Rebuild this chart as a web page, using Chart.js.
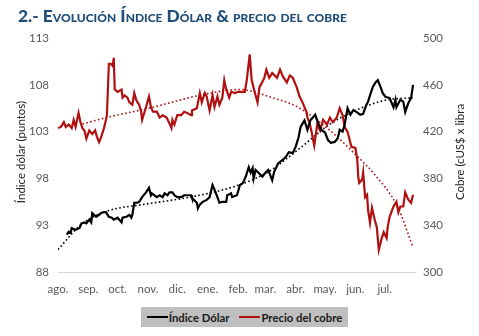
<!DOCTYPE html>
<html lang="es">
<head>
<meta charset="utf-8">
<script src="https://cdn.jsdelivr.net/npm/chart.js@4.4.1/dist/chart.umd.min.js"></script>
<style>
  html, body { margin: 0; padding: 0; background: #fff; }
  #wrap { position: relative; width: 479px; height: 336px; overflow: hidden; }
  #titulo {
    position: absolute; left: 18px; top: 5px;
    font-family: Lato, "Open Sans", sans-serif; font-weight: 900;
    font-size: 17.4px; font-variant: small-caps; color: #1F4E79;
    white-space: nowrap;
  }
  #grafico { position: absolute; left: 0; top: 0; }
  #leyenda {
    position: absolute; left: 141px; top: 307px; width: 207px; height: 20px;
    background: #BFBFBF; display: flex; align-items: center; justify-content: center;
    font-family: Lato, sans-serif; font-weight: 700; font-size: 11.3px; color: #1a1a1a;
    white-space: nowrap;
  }
  #leyenda span.item { display: flex; align-items: center; margin: 0 5px; white-space: nowrap; flex: none; }
  #leyenda i { display: inline-block; width: 21px; height: 2px; margin-right: 1px; }
</style>
</head>
<body>
<div id="wrap">
  <canvas id="grafico" width="479" height="336"></canvas>
  <div id="titulo">2.- Evolución Índice Dólar &amp; precio del cobre</div>
  <div id="leyenda">
    <span class="item"><i style="background:#000"></i>Índice Dólar</span>
    <span class="item"><i style="background:#B01010"></i>Precio del cobre</span>
  </div>
</div>
<script>
// Meses del eje X (día contado desde el 1 de agosto)
const meses = ['ago.', 'sep.', 'oct.', 'nov.', 'dic.', 'ene.', 'feb.', 'mar.', 'abr.', 'may.', 'jun.', 'jul.'];
const inicioMes = [0, 31, 61, 92, 122, 153, 184, 212, 243, 273, 304, 334];

// Índice Dólar (puntos)
const diasDolar = [9, 11, 13, 14, 18, 22, 24, 27, 29, 32, 34, 35, 39, 42, 44, 47, 49, 52, 55, 57,
  61, 65, 66, 70, 73, 75, 76, 78, 81, 83, 86, 90, 93, 95, 96, 101, 104, 107, 109, 112,
  114, 117, 119, 122, 126, 129, 132, 136, 137, 142, 143, 145, 148, 152, 155, 158, 160, 163, 165, 168,
  172, 173, 177, 178, 183, 186, 189, 192, 195, 197, 199, 200, 202, 205, 209, 212, 215, 219, 221, 225,
  230, 233, 236, 240, 243, 246, 248, 252, 255, 258, 263, 266, 269, 273, 276, 279, 283, 286, 288, 291,
  293, 296, 299, 302, 305, 309, 312, 315, 317, 320, 322, 325, 327, 330, 332, 335, 339, 343, 345, 346,
  350, 353, 355, 358, 361, 363];
const dolar = [92.0, 92.3, 92.2, 92.7, 92.5, 92.7, 93.2, 93.3, 93.2, 93.6, 93.3, 94.3, 93.9, 94.1, 94.3, 94.4, 94.4, 93.9, 93.8, 93.6,
  93.8, 93.3, 93.8, 93.9, 94.1, 93.8, 94.1, 95.4, 95.4, 95.5, 96.0, 96.5, 97.0, 96.2, 96.4, 96.0, 96.2, 96.0, 96.4, 96.2,
  96.5, 96.5, 96.2, 96.0, 96.0, 96.2, 96.2, 96.2, 95.9, 95.4, 94.8, 95.2, 95.5, 95.7, 96.0, 97.3, 96.8, 96.0, 95.4, 95.5,
  95.5, 96.2, 96.4, 96.0, 96.2, 97.3, 97.5, 98.2, 99.2, 98.6, 99.1, 98.0, 98.9, 98.6, 98.2, 98.6, 98.9, 97.8, 98.7, 99.6,
  100.0, 100.3, 100.8, 100.7, 101.4, 102.4, 103.5, 104.2, 103.2, 104.2, 104.8, 103.9, 103.2, 102.9, 102.1, 101.8, 101.9, 102.3, 103.2, 103.0,
  103.7, 105.5, 104.8, 105.3, 105.1, 104.8, 104.9, 105.8, 106.2, 107.2, 107.8, 108.3, 108.5, 107.7, 107.1, 106.7, 106.6, 105.6, 106.4, 105.6,
  106.4, 106.2, 105.1, 106.0, 106.6, 108.0];

// Precio del cobre (cUS$ por libra)
const diasCobre = [0, 3, 6, 8, 11, 14, 16, 18, 21, 23, 25, 27, 29, 32, 35, 38, 40, 42, 44, 47,
  49, 50, 52, 54, 56, 57, 58, 61, 65, 66, 68, 71, 73, 76, 78, 80, 83, 85, 86, 90,
  93, 95, 97, 101, 104, 107, 111, 114, 116, 117, 119, 122, 126, 129, 132, 136, 137, 142, 145, 147,
  150, 152, 155, 158, 160, 163, 165, 168, 170, 172, 175, 177, 181, 184, 186, 191, 193, 196, 198, 201,
  204, 206, 208, 211, 213, 216, 219, 224, 227, 230, 234, 237, 240, 244, 247, 250, 254, 255, 257, 259,
  262, 265, 268, 271, 275, 278, 281, 285, 288, 291, 293, 296, 300, 304, 306, 307, 308, 311, 312, 314,
  316, 317, 319, 321, 324, 326, 328, 331, 333, 336, 337, 339, 343, 346, 348, 350, 353, 355, 358, 361,
  363];
const cobre = [423, 424, 428, 424, 426, 423, 430, 424, 436, 428, 423, 421, 414, 421, 418, 421, 415, 411, 415, 423,
  430, 434, 478, 478, 476, 483, 456, 454, 456, 449, 451, 449, 445, 443, 453, 447, 443, 437, 430, 441,
  450, 441, 437, 437, 432, 434, 432, 427, 423, 430, 426, 434, 434, 437, 436, 434, 438, 440, 453, 445,
  453, 450, 438, 451, 441, 450, 443, 449, 464, 456, 449, 454, 453, 454, 454, 454, 464, 486, 464, 454,
  445, 458, 461, 466, 473, 466, 470, 466, 473, 467, 462, 468, 466, 458, 450, 445, 437, 432, 428, 421,
  408, 426, 421, 430, 426, 432, 428, 432, 440, 434, 424, 420, 407, 406, 396, 381, 376, 379, 385, 364,
  366, 353, 342, 355, 344, 338, 319, 329, 334, 329, 338, 347, 356, 360, 351, 356, 356, 368, 362, 359,
  366];

// Líneas de tendencia (punteadas)
const diasTendDolar = [0, 24, 50, 86, 118, 145, 185, 215, 247, 278, 312, 337, 363];
const tendDolar = [90.4, 93.1, 94.5, 95.2, 95.7, 96.2, 97.3, 98.7, 101.2, 103.8, 105.6, 106.4, 106.6];
const diasTendCobre = [25, 52, 93, 145, 186, 219, 245, 278, 307, 322, 347, 363];
const tendCobre = [426.5, 432.5, 440, 451, 456, 449, 441, 421, 398, 385, 356, 321];

const puntos = (xs, ys) => xs.map((d, i) => ({ x: d, y: ys[i] }));

const fuenteEje = { family: 'Lato, "Open Sans", sans-serif', size: 11.5 };
const grisTexto = '#595959';

// Títulos de los ejes verticales, ambos leídos de abajo hacia arriba
const titulosEjes = {
  id: 'titulosEjes',
  afterDraw(chart) {
    const { ctx, chartArea } = chart;
    const yc = (chartArea.top + chartArea.bottom) / 2;
    ctx.save();
    ctx.font = '11.5px Lato, "Open Sans", sans-serif';
    ctx.fillStyle = '#262626';
    ctx.textAlign = 'center';
    ctx.textBaseline = 'middle';
    [[21, 'Índice dólar (puntos)'], [460, 'Cobre (cUS$ x libra']].forEach(([x, txt]) => {
      ctx.save();
      ctx.translate(x, yc - 3);
      ctx.rotate(-Math.PI / 2);
      ctx.fillText(txt, 0, 0);
      ctx.restore();
    });
    ctx.restore();
  }
};

new Chart(document.getElementById('grafico'), {
  type: 'line',
  data: {
    datasets: [
      {
        label: 'Índice Dólar',
        data: puntos(diasDolar, dolar),
        yAxisID: 'y',
        borderColor: '#000',
        borderWidth: 2.2,
        pointRadius: 0,
        tension: 0,
        order: 0
      },
      {
        label: 'Precio del cobre',
        data: puntos(diasCobre, cobre),
        yAxisID: 'y1',
        borderColor: '#B01010',
        borderWidth: 2.2,
        pointRadius: 0,
        tension: 0,
        order: 0
      },
      {
        label: 'Tendencia dólar',
        data: puntos(diasTendDolar, tendDolar),
        yAxisID: 'y',
        borderColor: '#000',
        borderWidth: 1.6,
        borderDash: [1.6, 2.4],
        pointRadius: 0,
        cubicInterpolationMode: 'monotone',
        order: 1
      },
      {
        label: 'Tendencia cobre',
        data: puntos(diasTendCobre, tendCobre),
        yAxisID: 'y1',
        borderColor: '#B01010',
        borderWidth: 1.6,
        borderDash: [1.6, 2.4],
        pointRadius: 0,
        cubicInterpolationMode: 'monotone',
        order: 1
      }
    ]
  },
  options: {
    responsive: false,
    animation: false,
    layout: { padding: { top: 38, bottom: 34, left: 0, right: 0 } },
    plugins: {
      legend: { display: false },
      tooltip: { enabled: false }
    },
    scales: {
      x: {
        type: 'linear',
        min: 0,
        max: 365,
        afterBuildTicks: (scale) => { scale.ticks = inicioMes.map(v => ({ value: v })); },
        afterFit: (scale) => { scale.height = 30; },
        grid: { display: false, drawTicks: false },
        border: { display: true, color: '#D9D9D9', width: 1 },
        ticks: {
          padding: 10,
          autoSkip: false,
          maxRotation: 0,
          color: grisTexto,
          font: fuenteEje,
          callback: (v) => meses[inicioMes.indexOf(v)]
        }
      },
      y: {
        position: 'left',
        min: 88,
        max: 113,
        afterFit: (scale) => { scale.width = 58; },
        grid: { display: false, drawTicks: false },
        border: { display: false },
        ticks: { stepSize: 5, padding: 9, color: grisTexto, font: fuenteEje }
      },
      y1: {
        position: 'right',
        min: 300,
        max: 500,
        afterFit: (scale) => { scale.width = 64; },
        grid: { display: false, drawTicks: false },
        border: { display: false },
        ticks: { stepSize: 40, padding: 8, color: grisTexto, font: fuenteEje }
      }
    }
  },
  plugins: [titulosEjes]
});
</script>
</body>
</html>
